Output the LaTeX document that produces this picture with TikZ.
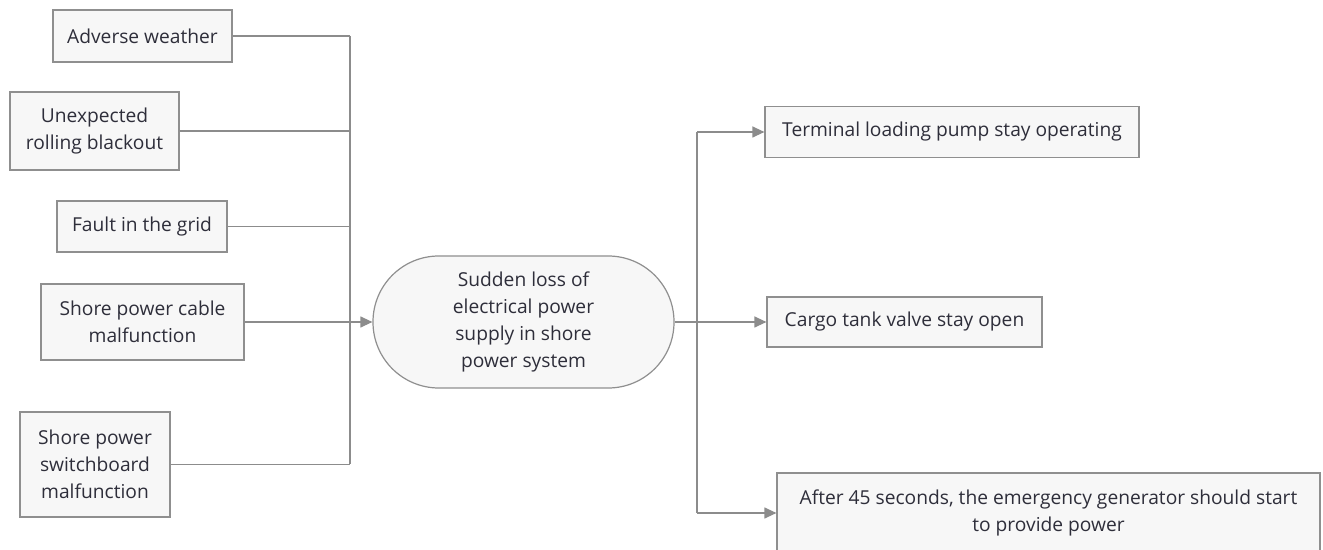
\documentclass[tikz,border=0pt]{standalone}
\usepackage{fontspec}
\setmainfont{Open Sans}
\usetikzlibrary{arrows.meta}
\definecolor{boxfill}{HTML}{F7F7F7}
\definecolor{boxline}{HTML}{8F8F8F}
\definecolor{linkc}{HTML}{8C8C8C}
\definecolor{txt}{HTML}{2E2E3A}
\begin{document}
\begin{tikzpicture}[x=0.5pt,y=-0.5pt,
  box/.style={draw=boxline,fill=boxfill,line width=0.6pt,inner sep=0pt,align=center,
    text=txt,font=\fontsize{9.6}{13.4}\selectfont},
  capsulebox/.style={box,rounded corners=32.9pt},
  link/.style={draw=linkc,line width=0.6pt},
  arr/.style={link,-{Triangle[length=6pt,width=5.5pt]}}]
\useasboundingbox (0,0) rectangle (1323,550);
\clip (0,0) rectangle (1323,550);
% causes
\node[box,minimum width=89.5pt,minimum height=26pt] (adv) at (142.5,36) {Adverse weather};
\node[box,minimum width=84.5pt,minimum height=39pt] (unx) at (94.5,131) {Unexpected\\rolling blackout};
\node[box,minimum width=85pt,minimum height=25.5pt] (flt) at (142,226.5) {Fault in the grid};
\node[box,minimum width=101.5pt,minimum height=38pt] (cab) at (142.5,322) {Shore power cable\\malfunction};
\node[box,minimum width=75pt,minimum height=52.5pt] (swb) at (95,464.5) {Shore power\\switchboard\\malfunction};
% event
\node[capsulebox,minimum width=150.5pt,minimum height=66pt] (evt) at (523.5,322) {Sudden loss of\\electrical power\\supply in shore\\power system};
% consequences
\node[box,minimum width=187pt,minimum height=25.5pt] (trm) at (952,132) {Terminal loading pump stay operating};
\node[box,minimum width=137.5pt,minimum height=25pt] (cgo) at (904.5,322) {Cargo tank valve stay open};
\node[box,minimum width=271.5pt,minimum height=40pt] (aft) at (1048.5,513) {After 45 seconds, the emergency generator should start\\to provide power};
% junctions
\coordinate (jl) at (350,322);
\coordinate (jr) at (697,322);
% left connectors
\draw[link] (adv.east) -- (adv.east -| jl);
\draw[link] (unx.east) -- (unx.east -| jl);
\draw[link] (flt.east) -- (flt.east -| jl);
\draw[link] (swb.east) -- (swb.east -| jl);
\draw[link] (adv.east -| jl) -- (swb.east -| jl);
\draw[arr] (cab.east) -- (evt.west);
% right connectors
\draw[link] (evt.east) -- (jr);
\draw[link] (trm.west -| jr) -- (aft.west -| jr);
\draw[arr] (trm.west -| jr) -- (trm.west);
\draw[arr] (jr) -- (cgo.west);
\draw[arr] (aft.west -| jr) -- (aft.west);
\end{tikzpicture}
\end{document}
